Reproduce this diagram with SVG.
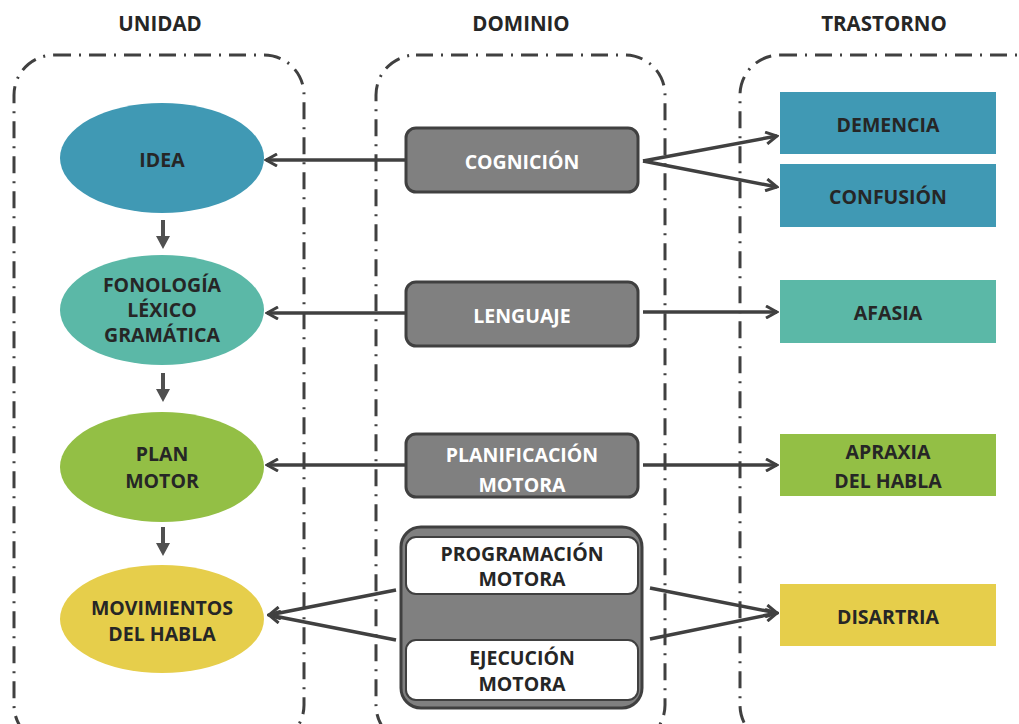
<svg xmlns="http://www.w3.org/2000/svg" width="1019" height="724" viewBox="0 0 1019 724">
<style>
.cont{fill:none;stroke:#404040;stroke-width:3;stroke-dasharray:17 8 2 8}
.hdr{font-family:"Open Sans","Liberation Sans",sans-serif;font-weight:bold;font-size:20.5px;fill:#262626;text-anchor:middle}
.t{font-family:"Open Sans","Liberation Sans",sans-serif;font-weight:bold;font-size:19.5px;fill:#262626;text-anchor:middle}
.w{fill:#ffffff}
.gbox{fill:#808080;stroke:#404040;stroke-width:3}
.wbox{fill:#ffffff;stroke:#404040;stroke-width:2}
.con{fill:none;stroke:#404040;stroke-width:3.5}
.dn{fill:#505050}
.blue{fill:#4099B4}
.teal{fill:#5BB8A7}
.green{fill:#93BF45}
.yellow{fill:#E6CE4B}
</style>
<defs>
<marker id="ah" viewBox="0 0 14 14" refX="12" refY="7" markerWidth="14" markerHeight="14" markerUnits="userSpaceOnUse" orient="auto">
<path d="M1,1 L12,7 L1,13" fill="none" stroke="#404040" stroke-width="3"/>
</marker>
</defs>
<rect width="1019" height="724" fill="#ffffff"/>
<g id="containers">
<rect class="cont" x="14" y="55" width="290" height="690" rx="40"/>
<rect class="cont" x="376" y="55" width="289" height="690" rx="40"/>
<rect class="cont" x="740" y="55" width="320" height="690" rx="40"/>
</g>
<g id="headers">
<text class="hdr" x="160" y="31">UNIDAD</text>
<text class="hdr" x="521" y="31">DOMINIO</text>
<text class="hdr" x="884" y="31">TRASTORNO</text>
</g>
<g id="connectors">
<line class="con" x1="405" y1="160" x2="266" y2="160" marker-end="url(#ah)"/>
<line class="con" x1="643" y1="161" x2="777" y2="136" marker-end="url(#ah)"/>
<line class="con" x1="643" y1="161" x2="777" y2="187" marker-end="url(#ah)"/>
<line class="con" x1="405" y1="313" x2="267" y2="313" marker-end="url(#ah)"/>
<line class="con" x1="643" y1="312" x2="777" y2="312" marker-end="url(#ah)"/>
<line class="con" x1="405" y1="465" x2="267" y2="465" marker-end="url(#ah)"/>
<line class="con" x1="643" y1="465" x2="777" y2="465" marker-end="url(#ah)"/>
<line class="con" x1="396" y1="590" x2="269" y2="615" marker-end="url(#ah)"/>
<line class="con" x1="396" y1="640" x2="269" y2="615" marker-end="url(#ah)"/>
<line class="con" x1="650" y1="588" x2="777" y2="613" marker-end="url(#ah)"/>
<line class="con" x1="650" y1="639" x2="777" y2="613" marker-end="url(#ah)"/>
<path class="dn" d="M161,220 h4 v16 h5 l-7,13 l-7,-13 h5 z"/>
<path class="dn" d="M161,373 h4 v16 h5 l-7,13 l-7,-13 h5 z"/>
<path class="dn" d="M161,527 h4 v16 h5 l-7,13 l-7,-13 h5 z"/>
</g>
<g id="idea">
<ellipse class="blue" cx="162" cy="158" rx="102" ry="55"/>
<text class="t" x="162" y="167">IDEA</text>
</g>
<g id="fonologia">
<ellipse class="teal" cx="162" cy="310" rx="102" ry="55"/>
<text class="t" x="162" y="292">FONOLOGÍA</text>
<text class="t" x="162" y="317">LÉXICO</text>
<text class="t" x="162" y="342">GRAMÁTICA</text>
</g>
<g id="plan">
<ellipse class="green" cx="162" cy="467" rx="102" ry="55"/>
<text class="t" x="162" y="461">PLAN</text>
<text class="t" x="162" y="488">MOTOR</text>
</g>
<g id="movimientos">
<ellipse class="yellow" cx="162" cy="619" rx="102" ry="54"/>
<text class="t" x="162" y="615">MOVIMIENTOS</text>
<text class="t" x="162" y="641">DEL HABLA</text>
</g>
<g id="cognicion">
<rect class="gbox" x="406" y="128" width="232" height="64" rx="10"/>
<text class="t w" x="522" y="169">COGNICIÓN</text>
</g>
<g id="lenguaje">
<rect class="gbox" x="406" y="282" width="232" height="64" rx="10"/>
<text class="t w" x="522" y="323">LENGUAJE</text>
</g>
<g id="planificacion">
<rect class="gbox" x="406" y="434" width="232" height="63" rx="10"/>
<text class="t w" x="522" y="462">PLANIFICACIÓN</text>
<text class="t w" x="522" y="492">MOTORA</text>
</g>
<g id="motora">
<rect class="gbox" x="401" y="527" width="241" height="181" rx="20"/>
<rect class="wbox" x="406" y="537" width="232" height="57" rx="10"/>
<text class="t" x="522" y="561">PROGRAMACIÓN</text>
<text class="t" x="522" y="586">MOTORA</text>
<rect class="wbox" x="406" y="640" width="232" height="60" rx="10"/>
<text class="t" x="522" y="665">EJECUCIÓN</text>
<text class="t" x="522" y="691">MOTORA</text>
</g>
<g id="demencia">
<rect class="blue" x="780" y="92" width="216" height="62"/>
<text class="t" x="888" y="132">DEMENCIA</text>
</g>
<g id="confusion">
<rect class="blue" x="780" y="164" width="216" height="63"/>
<text class="t" x="888" y="204">CONFUSIÓN</text>
</g>
<g id="afasia">
<rect class="teal" x="780" y="280" width="216" height="63"/>
<text class="t" x="888" y="320">AFASIA</text>
</g>
<g id="apraxia">
<rect class="green" x="780" y="434" width="216" height="62"/>
<text class="t" x="888" y="459">APRAXIA</text>
<text class="t" x="888" y="488">DEL HABLA</text>
</g>
<g id="disartria">
<rect class="yellow" x="780" y="584" width="216" height="62"/>
<text class="t" x="888" y="624">DISARTRIA</text>
</g>
</svg>
